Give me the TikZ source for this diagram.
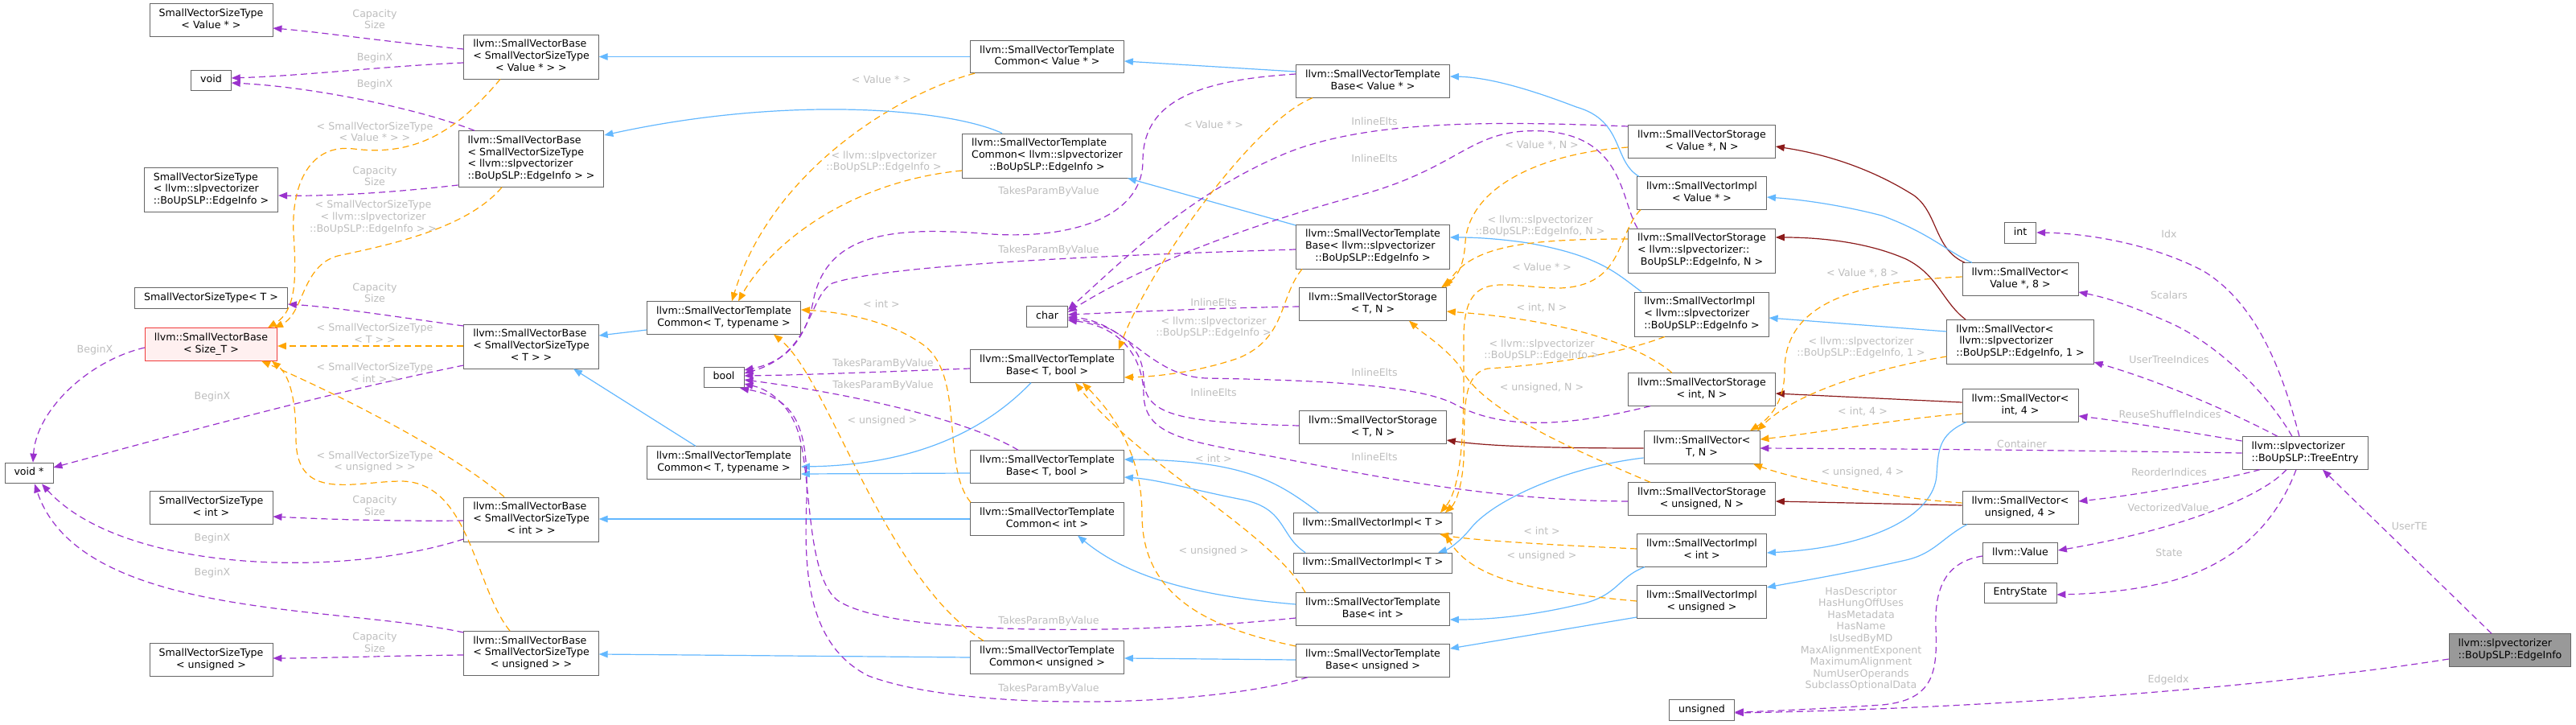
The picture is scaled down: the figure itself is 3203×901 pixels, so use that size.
\documentclass[tikz,border=0pt]{standalone}
\usepackage{fontspec}
\setmainfont{DejaVu Sans}
\usepackage{xcolor}
\usepackage{tikz}
\usetikzlibrary{arrows.meta}

\definecolor{memcol}{HTML}{9A32CD}
\definecolor{tplcol}{HTML}{FFA500}
\definecolor{pubcol}{HTML}{63B8FF}
\definecolor{protcol}{HTML}{8B1A1A}
\definecolor{boxcol}{HTML}{666666}
\definecolor{lblcol}{HTML}{BEBEBE}
\definecolor{basecol}{HTML}{F03C3C}
\definecolor{basefill}{HTML}{FFF0F0}
\definecolor{selfill}{HTML}{999999}

\newcommand{\doxfont}{\fontsize{12.6pt}{14.6pt}\selectfont}
\newcommand{\doxlines}[2]{\begin{tabular}{@{}l@{}}#1\\\multicolumn{1}{@{}c@{}}{#2}\end{tabular}}

\begin{document}
\begin{tikzpicture}[
  x=1pt, y=-1pt,
  font=\doxfont,
  cbox/.style = {draw=boxcol, line width=0.9pt, fill=white,
                 inner xsep=11.5pt, inner ysep=5.6pt},
  rbox/.style = {cbox, draw=basecol, fill=basefill},
  gbox/.style = {cbox, fill=selfill},
  lbl/.style  = {text=lblcol, inner sep=0pt, align=center},
  mem/.style  = {draw=memcol, line width=1.2pt, dash pattern=on 8pt off 5pt,
                 -{Triangle[length=11pt,width=8.5pt]}},
  tpl/.style  = {mem, draw=tplcol},
  pub/.style  = {draw=pubcol, line width=1.2pt, -{Triangle[length=11pt,width=8.5pt]}},
  prot/.style = {pub, draw=protcol}
]
\fill[white] (0,0) rectangle (3203,901);

\node[cbox] (svstValue) at (262.5,25)  {\doxlines{SmallVectorSizeType}{< Value * >}};
\node[cbox] (voidT)     at (262.5,100) {void\strut};
\node[cbox] (svstEdge)  at (262.5,236) {\doxlines{SmallVectorSizeType\\< llvm::slpvectorizer}{::BoUpSLP::EdgeInfo >}};
\node[cbox] (svstT)     at (262.5,370.5) {SmallVectorSizeType< T >\strut};
\node[rbox] (svbSize)   at (262.5,428) {\doxlines{llvm::SmallVectorBase}{< Size\_T >}};
\node[cbox] (voidPtr)   at (36,588)    {void *\strut};
\node[cbox] (svstInt)   at (262.5,631) {\doxlines{SmallVectorSizeType}{< int >}};
\node[cbox] (svstUns)   at (262.5,820) {\doxlines{SmallVectorSizeType}{< unsigned >}};

\node[cbox] (svbValue) at (660.5,70.5)  {\doxlines{llvm::SmallVectorBase\\< SmallVectorSizeType}{< Value * > >}};
\node[cbox] (svbEdge)  at (660.5,197.5) {\doxlines{llvm::SmallVectorBase\\< SmallVectorSizeType\\< llvm::slpvectorizer}{::BoUpSLP::EdgeInfo > >}};
\node[cbox] (svbT)     at (660.5,430.5) {\doxlines{llvm::SmallVectorBase\\< SmallVectorSizeType}{< T > >}};
\node[cbox] (svbInt)   at (660.5,645.5) {\doxlines{llvm::SmallVectorBase\\< SmallVectorSizeType}{< int > >}};
\node[cbox] (svbUns)   at (660.5,812)   {\doxlines{llvm::SmallVectorBase\\< SmallVectorSizeType}{< unsigned > >}};

\node[cbox] (svtcT)  at (900,395) {\doxlines{llvm::SmallVectorTemplate}{Common< T, typename >}};
\node[cbox] (boolT)  at (900,469) {bool\strut};
\node[cbox] (svtcT2) at (900,575) {\doxlines{llvm::SmallVectorTemplate}{Common< T, typename >}};

\node[cbox] (svtcValue) at (1302,70.5)  {\doxlines{llvm::SmallVectorTemplate}{Common< Value * >}};
\node[cbox] (svtcEdge)  at (1302,193.5) {\doxlines{llvm::SmallVectorTemplate\\Common< llvm::slpvectorizer}{::BoUpSLP::EdgeInfo >}};
\node[cbox] (charT)     at (1302,393.5) {char\strut};
\node[cbox] (svtbT)     at (1302,455)   {\doxlines{llvm::SmallVectorTemplate}{Base< T, bool >}};
\node[cbox] (svtbT2)    at (1302,580)   {\doxlines{llvm::SmallVectorTemplate}{Base< T, bool >}};
\node[cbox] (svtcInt)   at (1302,645)   {\doxlines{llvm::SmallVectorTemplate}{Common< int >}};
\node[cbox] (svtcUns)   at (1302,817)   {\doxlines{llvm::SmallVectorTemplate}{Common< unsigned >}};

\node[cbox] (svtbValue) at (1707,101)   {\doxlines{llvm::SmallVectorTemplate}{Base< Value * >}};
\node[cbox] (svtbEdge)  at (1707,306.5) {\doxlines{llvm::SmallVectorTemplate\\Base< llvm::slpvectorizer}{::BoUpSLP::EdgeInfo >}};
\node[cbox] (svstoT)    at (1707,378)   {\doxlines{llvm::SmallVectorStorage}{< T, N >}};
\node[cbox] (svstoT2)   at (1707,531)   {\doxlines{llvm::SmallVectorStorage}{< T, N >}};
\node[cbox] (sviT)      at (1707,650.5) {llvm::SmallVectorImpl< T >\strut};
\node[cbox] (sviT2)     at (1707,700)   {llvm::SmallVectorImpl< T >\strut};
\node[cbox] (svtbInt)   at (1707,757)   {\doxlines{llvm::SmallVectorTemplate}{Base< int >}};
\node[cbox] (svtbUns)   at (1707,821)   {\doxlines{llvm::SmallVectorTemplate}{Base< unsigned >}};

\node[cbox] (svsValue)  at (2116,176)   {\doxlines{llvm::SmallVectorStorage}{< Value *, N >}};
\node[cbox] (sviValue)  at (2116,240)   {\doxlines{llvm::SmallVectorImpl}{< Value * >}};
\node[cbox] (svsEdge)   at (2116,311.5) {\doxlines{llvm::SmallVectorStorage\\< llvm::slpvectorizer::}{BoUpSLP::EdgeInfo, N >}};
\node[cbox] (sviEdge)   at (2116,390.5) {\doxlines{llvm::SmallVectorImpl\\< llvm::slpvectorizer}{::BoUpSLP::EdgeInfo >}};
\node[cbox] (svsInt)    at (2116,484)   {\doxlines{llvm::SmallVectorStorage}{< int, N >}};
\node[cbox] (svT)       at (2116,556)   {\doxlines{llvm::SmallVector<}{T, N >}};
\node[cbox] (svsUns)    at (2116,620)   {\doxlines{llvm::SmallVectorStorage}{< unsigned, N >}};
\node[cbox] (sviInt)    at (2116,684)   {\doxlines{llvm::SmallVectorImpl}{< int >}};
\node[cbox] (sviUns)    at (2116,748)   {\doxlines{llvm::SmallVectorImpl}{< unsigned >}};
\node[cbox] (unsignedT) at (2116,882.5) {unsigned\strut};

\node[cbox] (intT)   at (2512,289.5) {int\strut};
\node[cbox] (svV8)   at (2512,347)   {\doxlines{llvm::SmallVector<}{Value *, 8 >}};
\node[cbox] (svE1)   at (2512,425)   {\doxlines{llvm::SmallVector<\\\ llvm::slpvectorizer}{::BoUpSLP::EdgeInfo, 1 >}};
\node[cbox] (svInt4) at (2512,504)   {\doxlines{llvm::SmallVector<}{int, 4 >}};
\node[cbox] (svUns4) at (2512,631)   {\doxlines{llvm::SmallVector<}{unsigned, 4 >}};
\node[cbox] (valueT) at (2512,687.5) {llvm::Value\strut};
\node[cbox] (entryT) at (2512,737)   {EntryState\strut};
\node[cbox] (tree)   at (2866,563)   {\doxlines{llvm::slpvectorizer}{::BoUpSLP::TreeEntry}};
\node[gbox] (edgeT)  at (3121,808)   {\doxlines{llvm::slpvectorizer}{::BoUpSLP::EdgeInfo}};

\draw[mem] (svbValue.west |- 0,61) .. controls (480,52) and (400,40) .. (svstValue.east |- 0,35);
\draw[mem] (svbValue.west |- 0,78) .. controls (480,82) and (380,94) .. (voidT.east |- 0,97);
\draw[mem] (svbEdge.north -| 590,0) .. controls (520,135) and (390,108) .. (voidT.east |- 0,103);
\draw[mem] (svbEdge.west |- 0,230) .. controls (500,238) and (420,244) .. (svstEdge.east |- 0,243);
\draw[mem] (svbT.west |- 0,405) .. controls (500,395) and (420,382) .. (svstT.east |- 0,378);
\draw[mem] (svbSize.west |- 0,432) .. controls (110,448) and (45,510) .. (voidPtr.north -| 41,0);
\draw[mem] (svbT.west |- 0,454) .. controls (400,490) and (200,545) .. (voidPtr.east |- 0,581);
\draw[mem] (svbInt.west |- 0,647) .. controls (480,648) and (400,645) .. (svstInt.east |- 0,642);
\draw[mem] (svbInt.west |- 0,670) .. controls (420,720) and (150,710) .. (voidPtr.south -| 52,0);
\draw[mem] (svbUns.west |- 0,786) .. controls (420,752) and (100,770) .. (voidPtr.south -| 43,0);
\draw[mem] (svbUns.west |- 0,814) .. controls (480,815) and (400,818) .. (svstUns.east |- 0,818);

\draw[tpl] (svbValue.south -| 622,0) .. controls (570,160) and (520,195) .. (440,185)
           .. controls (385,178) and (362,230) .. (365,290) .. controls (368,340) and (370,385) .. (svbSize.north -| 333,0);
\draw[tpl] (svbEdge.south -| 624,0) .. controls (580,285) and (480,305) .. (420,318)
           .. controls (375,330) and (378,390) .. (svbSize.north -| 341,0);
\draw[tpl] (svbT.west |- 0,430) -- (svbSize.east |- 0,430);
\draw[tpl] (svbInt.north -| 627,0) .. controls (560,560) and (420,490) .. (svbSize.south -| 325,0);
\draw[tpl] (svbUns.north -| 634,0) .. controls (590,730) and (585,600) .. (500,598)
           .. controls (440,598) and (368,625) .. (368,545) .. controls (368,490) and (358,465) .. (svbSize.south -| 338,0);

\draw[tpl] (svtcValue.south -| 1212,0) .. controls (1120,115) and (960,210) .. (svtcT.north -| 910,0);
\draw[tpl] (svtcEdge.west |- 0,212) .. controls (1060,225) and (960,300) .. (svtcT.north -| 918,0);
\draw[tpl] (svtcInt.north -| 1207,0) .. controls (1170,580) and (1200,470) .. (1150,430)
           .. controls (1110,400) and (1050,388) .. (svtcT.east |- 0,385);
\draw[tpl] (svtcUns.north -| 1223,0) .. controls (1100,720) and (1030,470) .. (svtcT.south -| 962,0);

\draw[pub] (svtcValue.west) -- (svbValue.east);
\draw[pub] (svtcEdge.north -| 1246,0) .. controls (1180,135) and (980,118) .. (svbEdge.east |- 0,168);
\draw[pub] (svtcT.west |- 0,410) -- (svbT.east |- 0,417);
\draw[pub] (svtcT2.north -| 865,0) -- (svbT.south -| 713,0);
\draw[pub] (svtcInt.west) -- (svbInt.east |- 0,645);
\draw[pub] (svtcUns.west |- 0,817) -- (svbUns.east |- 0,813);
\draw[pub] (svtbValue.west |- 0,89) -- (svtcValue.east |- 0,76);
\draw[pub] (svtbEdge.west |- 0,280) -- (svtcEdge.south -| 1402,0);
\draw[pub] (svtbT.south -| 1282,0) .. controls (1220,540) and (1130,578) .. (svtcT2.east |- 0,580);
\draw[pub] (svtbT2.west |- 0,588) -- (svtcT2.east |- 0,589);
\draw[pub] (svtbInt.west |- 0,751) .. controls (1480,740) and (1400,715) .. (svtcInt.south -| 1340,0);
\draw[pub] (svtbUns.west |- 0,820) -- (svtcUns.east |- 0,818);

\draw[mem] (svtbValue.west |- 0,92) .. controls (1480,100) and (1421,130) .. (1421,200)
           .. controls (1421,270) and (1330,300) .. (1220,290) .. controls (1110,282) and (1030,290) .. (1012,370)
           .. controls (1002,425) and (975,450) .. (boolT.east |- 0,460);
\draw[mem] (svtbEdge.west |- 0,310) .. controls (1350,318) and (1100,330) .. (1035,352)
           .. controls (1005,368) and (1010,440) .. (boolT.east |- 0,464);
\draw[mem] (svtbT.west |- 0,458) .. controls (1100,462) and (1000,466) .. (boolT.east |- 0,467);
\draw[mem] (svtbT2.north -| 1266,0) .. controls (1200,520) and (1050,488) .. (boolT.east |- 0,472);
\draw[mem] (svtbInt.west |- 0,768) .. controls (1400,790) and (1100,790) .. (1040,745)
           .. controls (1000,710) and (1010,580) .. (990,530) .. controls (980,505) and (960,485) .. (boolT.east |- 0,477);
\draw[mem] (svtbUns.south -| 1626,0) .. controls (1500,880) and (1200,885) .. (1080,840)
           .. controls (1000,800) and (1000,700) .. (1003,620) .. controls (1005,530) and (990,495) .. (boolT.south -| 920,0);

\draw[mem] (svsValue.west |- 0,157) .. controls (1850,150) and (1700,150) .. (1600,190)
           .. controls (1480,240) and (1400,320) .. (charT.east |- 0,385);
\draw[mem] (svsEdge.north -| 2036,0) .. controls (2015,250) and (2020,170) .. (1920,163)
           .. controls (1830,158) and (1820,205) .. (1700,240) .. controls (1550,280) and (1420,330) .. (charT.east |- 0,388);
\draw[mem] (svstoT.west |- 0,381) .. controls (1500,383) and (1400,388) .. (charT.east |- 0,391);
\draw[mem] (svstoT2.west |- 0,529) .. controls (1460,525) and (1423,515) .. (1422,470)
           .. controls (1421,425) and (1380,402) .. (charT.east |- 0,396);
\draw[mem] (svsInt.south -| 2052,0) .. controls (1950,530) and (1870,535) .. (1810,503)
           .. controls (1760,475) and (1600,472) .. (1500,470) .. controls (1430,468) and (1400,400) .. (charT.east |- 0,394);
\draw[mem] (svsUns.west |- 0,623) .. controls (1850,622) and (1700,590) .. (1580,567)
           .. controls (1470,548) and (1423,540) .. (1422,490) .. controls (1421,440) and (1390,405) .. (charT.east |- 0,398);

\draw[tpl] (svtbValue.south -| 1632,0) .. controls (1560,150) and (1430,330) .. (svtbT.north -| 1391,0);
\draw[tpl] (svtbEdge.south -| 1619,0) .. controls (1590,370) and (1600,420) .. (1540,445)
           .. controls (1490,462) and (1440,468) .. (svtbT.east |- 0,469);
\draw[tpl] (svtbInt.north -| 1623,0) .. controls (1580,660) and (1420,580) .. (svtbT.south -| 1337,0);
\draw[tpl] (svtbUns.west |- 0,803) .. controls (1500,780) and (1420,740) .. (1420,640)
           .. controls (1420,560) and (1380,510) .. (svtbT.south -| 1346,0);

\draw[pub] (sviT.north -| 1640,0) .. controls (1590,600) and (1550,572) .. (svtbT2.east |- 0,571);
\draw[pub] (sviT2.north -| 1623,0) .. controls (1590,665) and (1600,630) .. (1540,620)
           .. controls (1480,608) and (1440,596) .. (svtbT2.east |- 0,593);
\draw[pub] (sviValue.north -| 2038,0) .. controls (2005,200) and (2020,150) .. (1960,133)
           .. controls (1900,110) and (1850,96) .. (svtbValue.east |- 0,95);
\draw[pub] (sviEdge.north -| 2041,0) .. controls (2010,340) and (1990,318) .. (1900,302)
           .. controls (1860,296) and (1830,295) .. (svtbEdge.east |- 0,295);
\draw[pub] (sviInt.south -| 2045,0) .. controls (2010,718) and (2012,742) .. (1960,752)
           .. controls (1900,766) and (1850,770) .. (svtbInt.east |- 0,770);
\draw[pub] (sviUns.west |- 0,767) -- (svtbUns.east |- 0,806);
\draw[pub] (svT.west |- 0,569) .. controls (1950,580) and (1860,620) .. (1830,655)
           .. controls (1815,674) and (1800,683) .. (sviT2.north -| 1788,0);
\draw[prot] (svT.west |- 0,557) .. controls (1900,557) and (1840,553) .. (svstoT2.east |- 0,547);

\draw[prot] (svV8.north -| 2443,0) .. controls (2405,310) and (2410,265) .. (2380,243)
            .. controls (2320,205) and (2260,190) .. (svsValue.east |- 0,182);
\draw[pub] (svV8.north -| 2452,0) .. controls (2420,312) and (2400,290) .. (2340,268)
           .. controls (2290,255) and (2240,248) .. (sviValue.east |- 0,245);
\draw[prot] (svE1.north -| 2444,0) .. controls (2415,375) and (2410,342) .. (2370,322)
            .. controls (2320,300) and (2260,295) .. (svsEdge.east |- 0,295);
\draw[pub] (svE1.west |- 0,412) -- (sviEdge.east |- 0,395);
\draw[prot] (svInt4.west |- 0,500) -- (svsInt.east |- 0,489);
\draw[prot] (svUns4.west |- 0,628) -- (svsUns.east |- 0,623);
\draw[pub] (svInt4.south -| 2445,0) .. controls (2410,540) and (2410,560) .. (2408,590)
           .. controls (2405,640) and (2330,680) .. (sviInt.east |- 0,687);
\draw[pub] (svUns4.south -| 2446,0) .. controls (2415,668) and (2405,688) .. (2370,696)
           .. controls (2300,712) and (2240,722) .. (sviUns.east |- 0,730);

\draw[tpl] (svsValue.west |- 0,183) .. controls (1920,190) and (1828,230) .. (1822,300)
           .. controls (1820,335) and (1810,345) .. (svstoT.north -| 1792,0);
\draw[tpl] (svsEdge.west |- 0,297) .. controls (1900,297) and (1830,305) .. (svstoT.north -| 1797,0);
\draw[tpl] (svsInt.north -| 2079,0) .. controls (2040,430) and (1950,398) .. (svstoT.east |- 0,387);
\draw[tpl] (svsUns.north -| 2052,0) .. controls (1960,560) and (1840,510) .. (1815,455)
           .. controls (1795,430) and (1770,415) .. (svstoT.south -| 1752,0);

\draw[tpl] (sviValue.south -| 2040,0) .. controls (2010,290) and (2020,355) .. (1940,358)
           .. controls (1870,358) and (1820,330) .. (1820,420) .. controls (1820,500) and (1822,600) .. (sviT.north -| 1791,0);
\draw[tpl] (sviEdge.south -| 2070,0) .. controls (2000,445) and (1900,455) .. (1850,458)
           .. controls (1815,465) and (1822,520) .. (1820,570) .. controls (1818,605) and (1810,625) .. (sviT.north -| 1797,0);
\draw[tpl] (sviInt.west |- 0,682) .. controls (1900,676) and (1820,670) .. (sviT.south -| 1790,0);
\draw[tpl] (sviUns.west |- 0,747) .. controls (1900,735) and (1830,718) .. (sviT.south -| 1797,0);

\draw[tpl] (svV8.west |- 0,344) .. controls (2300,350) and (2219,380) .. (2219,460)
           .. controls (2219,500) and (2200,520) .. (svT.north -| 2176,0);
\draw[tpl] (svE1.west |- 0,443) .. controls (2320,460) and (2230,490) .. (svT.north -| 2185,0);
\draw[tpl] (svInt4.west |- 0,514) .. controls (2350,522) and (2260,538) .. (svT.east |- 0,546);
\draw[tpl] (svUns4.west |- 0,625) .. controls (2340,618) and (2230,595) .. (svT.south -| 2180,0);

\draw[mem] (tree.north -| 2859,0) .. controls (2840,470) and (2810,380) .. (2740,337)
           .. controls (2680,305) and (2600,290) .. (intT.east |- 0,289);
\draw[mem] (tree.north -| 2850,0) .. controls (2820,490) and (2760,430) .. (2700,402)
           .. controls (2650,380) and (2620,370) .. (svV8.east |- 0,363);
\draw[mem] (tree.north -| 2832,0) .. controls (2790,520) and (2700,478) .. (svE1.east |- 0,450);
\draw[mem] (tree.west |- 0,548) .. controls (2720,537) and (2650,525) .. (svInt4.east |- 0,517);
\draw[mem] (tree.west |- 0,563) .. controls (2600,560) and (2400,558) .. (svT.east |- 0,557);
\draw[mem] (tree.south -| 2810,0) .. controls (2760,597) and (2660,615) .. (svUns4.east |- 0,623);
\draw[mem] (tree.south -| 2843,0) .. controls (2810,620) and (2700,660) .. (valueT.east |- 0,684);
\draw[mem] (tree.south -| 2855,0) .. controls (2830,650) and (2780,700) .. (2700,722)
           .. controls (2650,735) and (2600,738) .. (entryT.east |- 0,739);
\draw[mem] (edgeT.north -| 3098,0) -- (tree.south -| 2888,0);
\draw[mem] (edgeT.west |- 0,819) .. controls (2850,850) and (2500,880) .. (unsignedT.east |- 0,886);
\draw[mem] (valueT.west |- 0,691) .. controls (2420,698) and (2405,730) .. (2407,780)
           .. controls (2409,835) and (2405,870) .. (2340,876) .. controls (2280,880) and (2200,884) .. (unsignedT.east |- 0,885);

\node[lbl] (lb1)  at (466,24)   {Capacity\\Size};
\node[lbl] (lb2)  at (466,72)   {BeginX};
\node[lbl] (lb3)  at (466,105)  {BeginX};
\node[lbl] (lb4)  at (466,164)  {< SmallVectorSizeType\\< Value * > >};
\node[lbl] (lb5)  at (466,219)  {Capacity\\Size};
\node[lbl] (lb6)  at (464,270)  {< SmallVectorSizeType\\< llvm::slpvectorizer\\::BoUpSLP::EdgeInfo > >};
\node[lbl] (lb7)  at (466,364)  {Capacity\\Size};
\node[lbl] (lb8)  at (466,414)  {< SmallVectorSizeType\\< T > >};
\node[lbl] (lb9)  at (118,435)  {BeginX};
\node[lbl] (lb10) at (466,463)  {< SmallVectorSizeType\\< int > >};
\node[lbl] (lb11) at (264,493)  {BeginX};
\node[lbl] (lb12) at (466,574)  {< SmallVectorSizeType\\< unsigned > >};
\node[lbl] (lb13) at (466,628)  {Capacity\\Size};
\node[lbl] (lb14) at (264,669)  {BeginX};
\node[lbl] (lb15) at (264,712)  {BeginX};
\node[lbl] (lb16) at (466,798)  {Capacity\\Size};
\node[lbl] (lb17) at (1096,99)  {< Value * >};
\node[lbl] (lb18) at (1099,201) {< llvm::slpvectorizer\\::BoUpSLP::EdgeInfo >};
\node[lbl] (lb19) at (1096,378) {< int >};
\node[lbl] (lb20) at (1097,523) {< unsigned >};
\node[lbl] (lb21) at (1098,452) {TakesParamByValue};
\node[lbl] (lb22) at (1098,479) {TakesParamByValue};
\node[lbl] (lb23) at (1304,238) {TakesParamByValue};
\node[lbl] (lb24) at (1304,311) {TakesParamByValue};
\node[lbl] (lb25) at (1304,772) {TakesParamByValue};
\node[lbl] (lb26) at (1304,856) {TakesParamByValue};
\node[lbl] (lb27) at (1509,155) {< Value * >};
\node[lbl] (lb28) at (1509,376) {InlineElts};
\node[lbl] (lb29) at (1509,407) {< llvm::slpvectorizer\\::BoUpSLP::EdgeInfo >};
\node[lbl] (lb30) at (1509,488) {InlineElts};
\node[lbl] (lb31) at (1509,570) {< int >};
\node[lbl] (lb32) at (1509,685) {< unsigned >};
\node[lbl] (lb33) at (1709,151) {InlineElts};
\node[lbl] (lb34) at (1709,197) {InlineElts};
\node[lbl] (lb35) at (1709,463) {InlineElts};
\node[lbl] (lb36) at (1709,568) {InlineElts};
\node[lbl] (lb37) at (1917,180) {< Value *, N >};
\node[lbl] (lb38) at (1915,281) {< llvm::slpvectorizer\\::BoUpSLP::EdgeInfo, N >};
\node[lbl] (lb39) at (1917,332) {< Value * >};
\node[lbl] (lb40) at (1917,382) {< int, N >};
\node[lbl] (lb41) at (1917,435) {< llvm::slpvectorizer\\::BoUpSLP::EdgeInfo >};
\node[lbl] (lb42) at (1917,482) {< unsigned, N >};
\node[lbl] (lb43) at (1917,660) {< int >};
\node[lbl] (lb44) at (1917,691) {< unsigned >};
\node[lbl] (lb45) at (2316,339) {< Value *, 8 >};
\node[lbl] (lb46) at (2314,432) {< llvm::slpvectorizer\\::BoUpSLP::EdgeInfo, 1 >};
\node[lbl] (lb47) at (2316,511) {< int, 4 >};
\node[lbl] (lb48) at (2514,552) {Container};
\node[lbl] (lb49) at (2316,587) {< unsigned, 4 >};
\node[lbl] (lb50) at (2314,794) {HasDescriptor\\HasHungOffUses\\HasMetadata\\HasName\\IsUsedByMD\\MaxAlignmentExponent\\MaximumAlignment\\NumUserOperands\\SubclassOptionalData};
\node[lbl] (lb51) at (2697,291) {Idx};
\node[lbl] (lb52) at (2697,367) {Scalars};
\node[lbl] (lb53) at (2697,447) {UserTreeIndices};
\node[lbl] (lb54) at (2698,515) {ReuseShuffleIndices};
\node[lbl] (lb55) at (2697,587) {ReorderIndices};
\node[lbl] (lb56) at (2696,631) {VectorizedValue};
\node[lbl] (lb57) at (2697,687) {State};
\node[lbl] (lb58) at (2696,845) {EdgeIdx};
\node[lbl] (lb59) at (2996,654) {UserTE};
\end{tikzpicture}
\end{document}
